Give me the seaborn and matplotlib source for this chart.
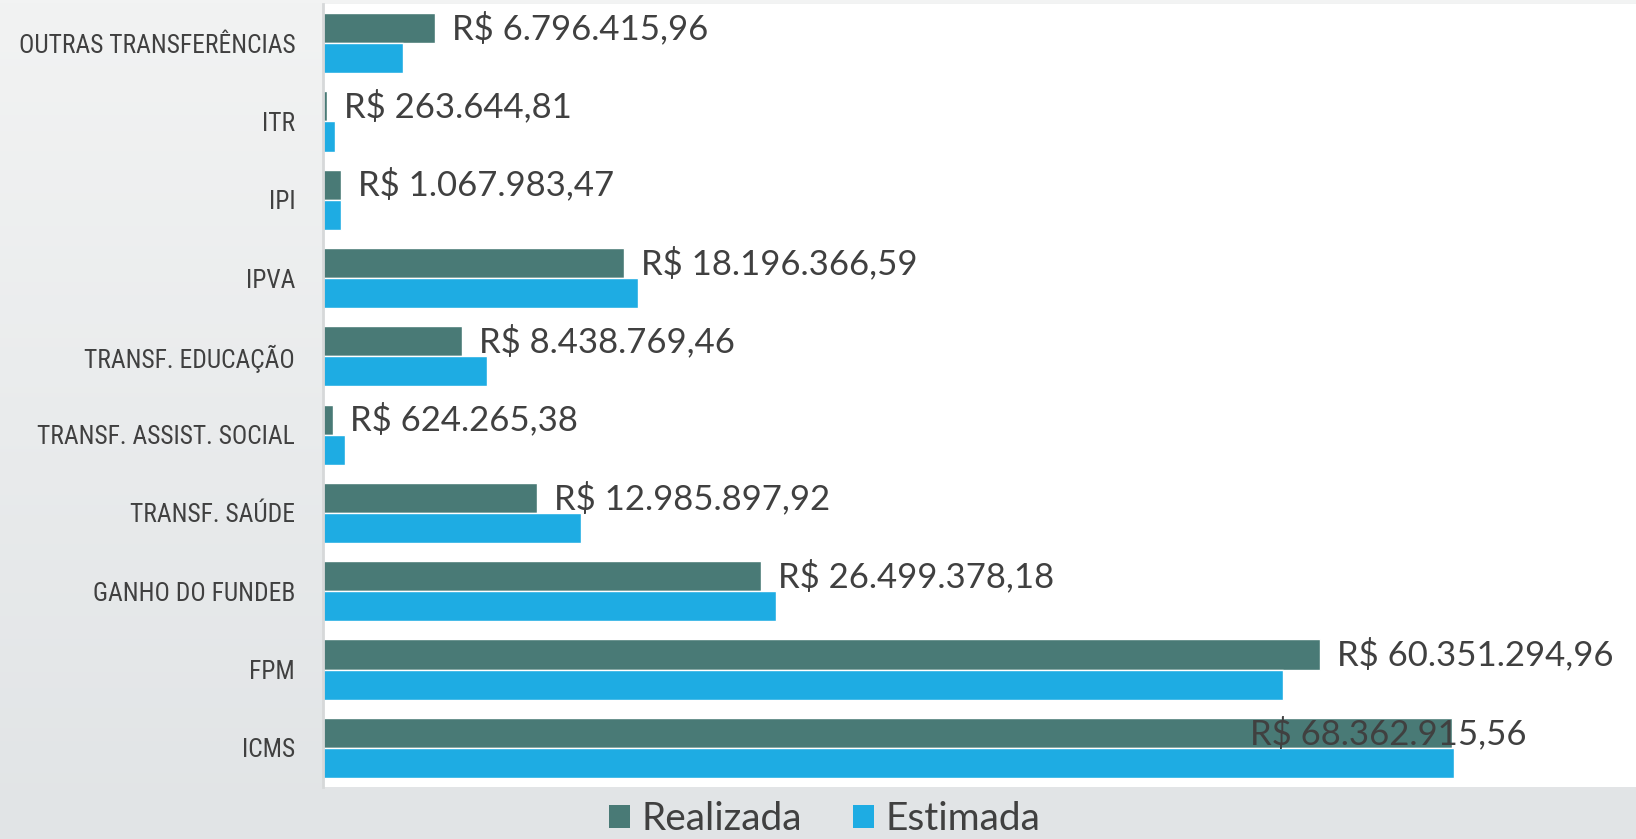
import numpy as np
import pandas as pd
import seaborn as sns
import matplotlib.pyplot as plt
from matplotlib import font_manager as fm
from matplotlib.patches import Patch
from matplotlib.colors import LinearSegmentedColormap

# [1] dados (valores em reais)
categorias = ["OUTRAS TRANSFERÊNCIAS", "ITR", "IPI", "IPVA", "TRANSF. EDUCAÇÃO",
              "TRANSF. ASSIST. SOCIAL", "TRANSF. SAÚDE", "GANHO DO FUNDEB", "FPM", "ICMS"]
realizada = [6796415.96, 263644.81, 1067983.47, 18196366.59, 8438769.46,
             624265.38, 12985897.92, 26499378.18, 60351294.96, 68362915.56]
estimada = [4850000, 730000, 1100000, 19100000, 9900000,
            1350000, 15600000, 27400000, 58100000, 68500000]
series = ["Realizada", "Estimada"]
cores = ["#497a76", "#1eace3"]

df = pd.DataFrame({
    "categoria": categorias * 2,
    "serie": [series[0]] * len(categorias) + [series[1]] * len(categorias),
    "valor": realizada + estimada,
})


def reais(v):
    # formato brasileiro: R$ 1.234.567,89
    s = f"{v:,.2f}".replace(",", "X").replace(".", ",").replace("X", ".")
    return "R$ " + s


# fonte condensada para os nomes das categorias (a primeira que existir)
fonte_cat = fm.FontProperties(family="DejaVu Sans", stretch="condensed")
for nome in ["Liberation Sans Narrow", "Roboto Condensed", "Open Sans Condensed"]:
    try:
        fm.findfont(fm.FontProperties(family=nome), fallback_to_default=False)
        fonte_cat = fm.FontProperties(family=nome)
        break
    except Exception:
        pass

# [2] figura
sns.set_theme(style="white")
plt.rcParams["font.family"] = ["Lato", "DejaVu Sans"]
fig = plt.figure(figsize=(16.36, 8.39), dpi=100)

# fundo em degradê
bg = fig.add_axes([0, 0, 1, 1], zorder=-1)
grad = np.linspace(0, 1, 256).reshape(-1, 1)
cmap_bg = LinearSegmentedColormap.from_list("bg", ["#f2f3f3", "#e1e4e6"])
bg.imshow(grad, aspect="auto", cmap=cmap_bg, extent=[0, 1, 0, 1])
bg.axis("off")

ax = fig.add_axes([323 / 1636, 1 - 787 / 839, 1 - 323 / 1636, (787 - 4) / 839])
ax.set_facecolor("white")

# [3] barras
sns.barplot(data=df, y="categoria", x="valor", hue="serie", order=categorias,
            hue_order=series, palette=cores, saturation=1, orient="h", width=0.77,
            edgecolor="white", linewidth=1, legend=False, ax=ax)

ax.set_xlim(0, 79.5e6)
ax.set_ylim(9.5, -0.5)
ax.set_xlabel("")
ax.set_ylabel("")
ax.set_xticks([])
for s in ["top", "right", "bottom"]:
    ax.spines[s].set_visible(False)
ax.spines["left"].set_color("#d6d8d9")
ax.spines["left"].set_linewidth(2)
ax.tick_params(axis="y", length=0, pad=20)

# tamanho da fonte ajustado para que o rótulo mais longo tenha ~276 px
ticks = ax.get_yticklabels()
for t in ticks:
    t.set_fontproperties(fonte_cat)
    t.set_fontsize(22)
    t.set_color("#404040")
fig.canvas.draw()
larg = max(t.get_window_extent().width for t in ticks)
tam = min(22, 22 * 276 / larg)
for t in ticks:
    t.set_fontsize(tam)

# [4] rótulos de valor (Realizada)
for i, v in enumerate(realizada):
    dx = 17 if i < len(realizada) - 1 else -202
    ax.annotate(reais(v), xy=(v, i - 0.19), xytext=(dx, 0), textcoords="offset pixels",
                ha="left", va="center", fontsize=25, color="#404040")

# [5] legenda
handles = [Patch(facecolor=c, edgecolor="none", label=s) for s, c in zip(series, cores)]
fig.legend(handles=handles, loc="center", bbox_to_anchor=(0.504, 1 - 819 / 839), ncol=2,
           frameon=False, fontsize=28, handlelength=0.55, handleheight=0.55,
           handletextpad=0.3, columnspacing=1.3, labelcolor="#404040")

plt.savefig("out.png", dpi=100)
